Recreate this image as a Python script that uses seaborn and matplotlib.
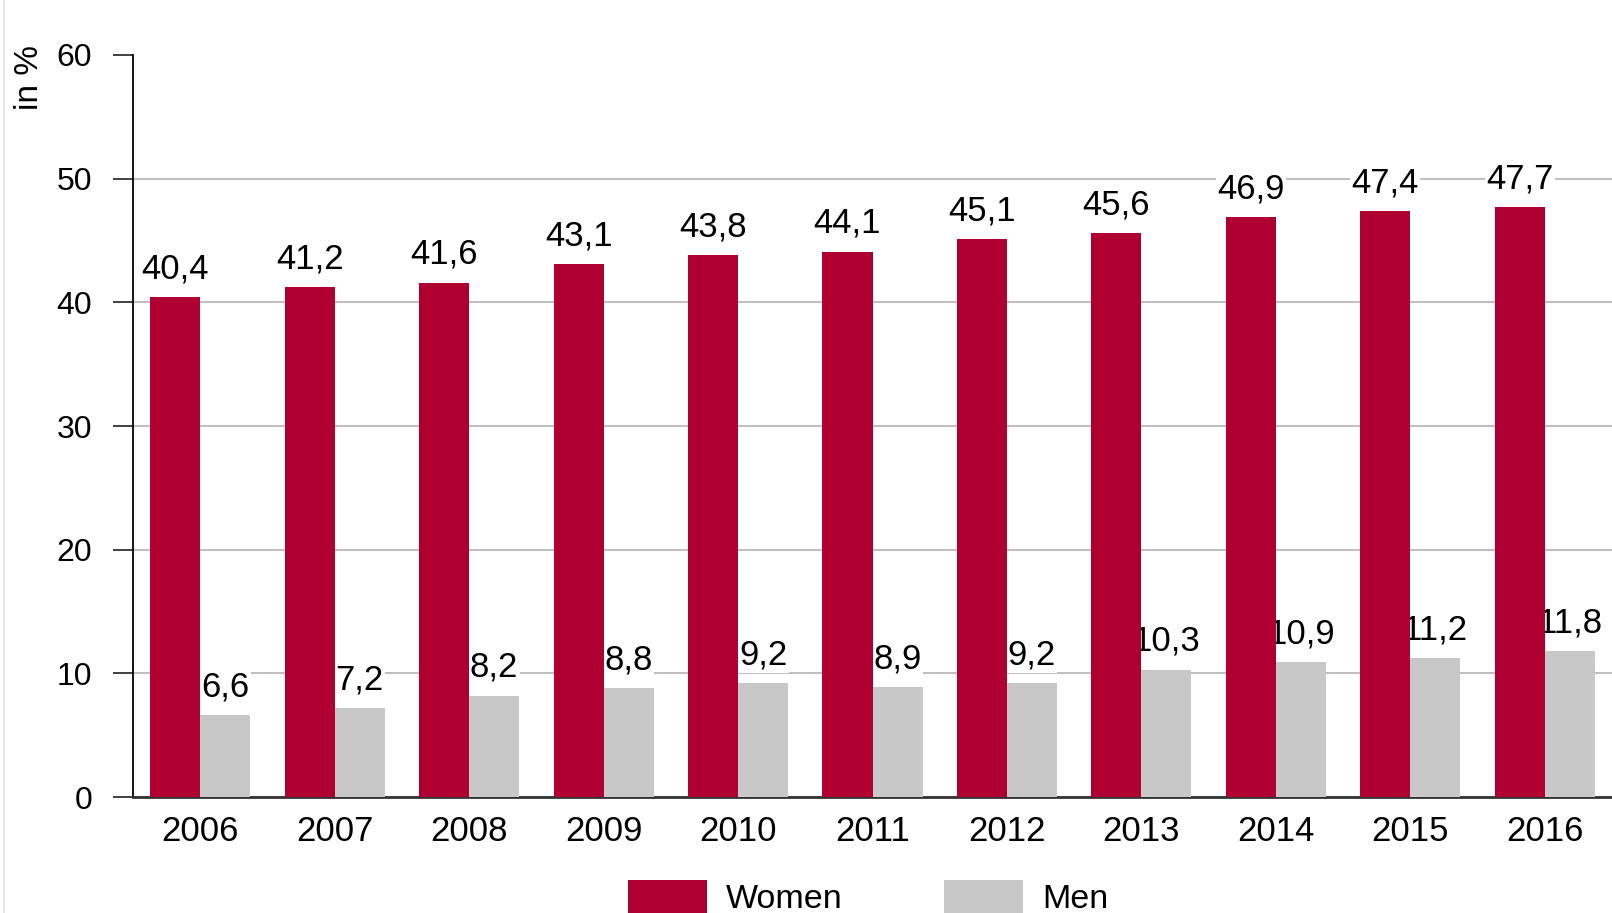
import pandas as pd
import matplotlib.pyplot as plt
import seaborn as sns
from matplotlib.patches import Patch
from matplotlib.lines import Line2D

# --- data ---
years = ["2006", "2007", "2008", "2009", "2010", "2011",
         "2012", "2013", "2014", "2015", "2016"]
women = [40.4, 41.2, 41.6, 43.1, 43.8, 44.1, 45.1, 45.6, 46.9, 47.4, 47.7]
men = [6.6, 7.2, 8.2, 8.8, 9.2, 8.9, 9.2, 10.3, 10.9, 11.2, 11.8]
groups = ["Women", "Men"]
colors = ["#B00032", "#C8C8C8"]
y_ticks = [0, 10, 20, 30, 40, 50, 60]

df = pd.DataFrame({
    "year": years * 2,
    "share": women + men,
    "group": ["Women"] * len(years) + ["Men"] * len(years),
})

sns.set_style("white")
plt.rcParams["font.family"] = ["Liberation Sans", "DejaVu Sans"]
plt.rcParams["text.color"] = "black"

W, H = 1612, 913
fig = plt.figure(figsize=(W / 100, H / 100), dpi=100)
ax = fig.add_axes([133 / W, 1 - 797 / H, 1 - 133 / W, (797 - 55) / H])

sns.barplot(data=df, x="year", y="share", hue="group", hue_order=groups,
            palette=colors, width=0.744, saturation=1, errorbar=None,
            legend=False, linewidth=0, zorder=3, ax=ax)

# value labels with comma decimals
for cont, vals in zip(ax.containers, [women, men]):
    texts = ax.bar_label(cont, labels=[f"{v:.1f}".replace(".", ",") for v in vals],
                         padding=8.5, fontsize=25, color="black")
    for t in texts:
        t.set_bbox(dict(facecolor="white", edgecolor="none", pad=1))
        t.set_zorder(2.5)

ax.set_xlim(-0.5, 10.5)
ax.set_ylim(0, 60)
ax.set_yticks(y_ticks)
ax.set_xlabel("")
ax.set_ylabel("")
ax.set_axisbelow(True)
ax.yaxis.grid(True, color="#C0C0C0", linewidth=1.5)
ax.xaxis.grid(False)
ax.get_ygridlines()[-1].set_visible(False)

for s in ["top", "right"]:
    ax.spines[s].set_visible(False)
ax.spines["left"].set_color("black")
ax.spines["left"].set_linewidth(1.3)
ax.spines["bottom"].set_color("#333333")
ax.spines["bottom"].set_linewidth(2)

ax.tick_params(axis="y", left=True, length=14.4, width=1.3, color="#333333",
               pad=15, labelsize=23, labelcolor="black")
ax.tick_params(axis="x", bottom=False, length=0, pad=13, labelsize=25,
               labelcolor="black")

fig.text(29 / W, 1 - 77 / H, "in %", rotation=90, ha="center", va="center",
         fontsize=24, color="black")

handles = [Patch(facecolor=c, edgecolor="none") for c in colors]
fig.legend(handles, groups, loc="upper left", bbox_to_anchor=(628 / W, 1 - 880 / H),
           ncol=2, frameon=False, borderpad=0, borderaxespad=0, fontsize=24.5,
           handlelength=2.32, handleheight=1.1, handletextpad=0.56,
           columnspacing=2.97, labelcolor="black")

# thin frame line on the left edge
fig.add_artist(Line2D([4 / W, 4 / W], [0, 1], color="#E6E6E6", linewidth=1.5))

fig.savefig("out.png", dpi=100)
